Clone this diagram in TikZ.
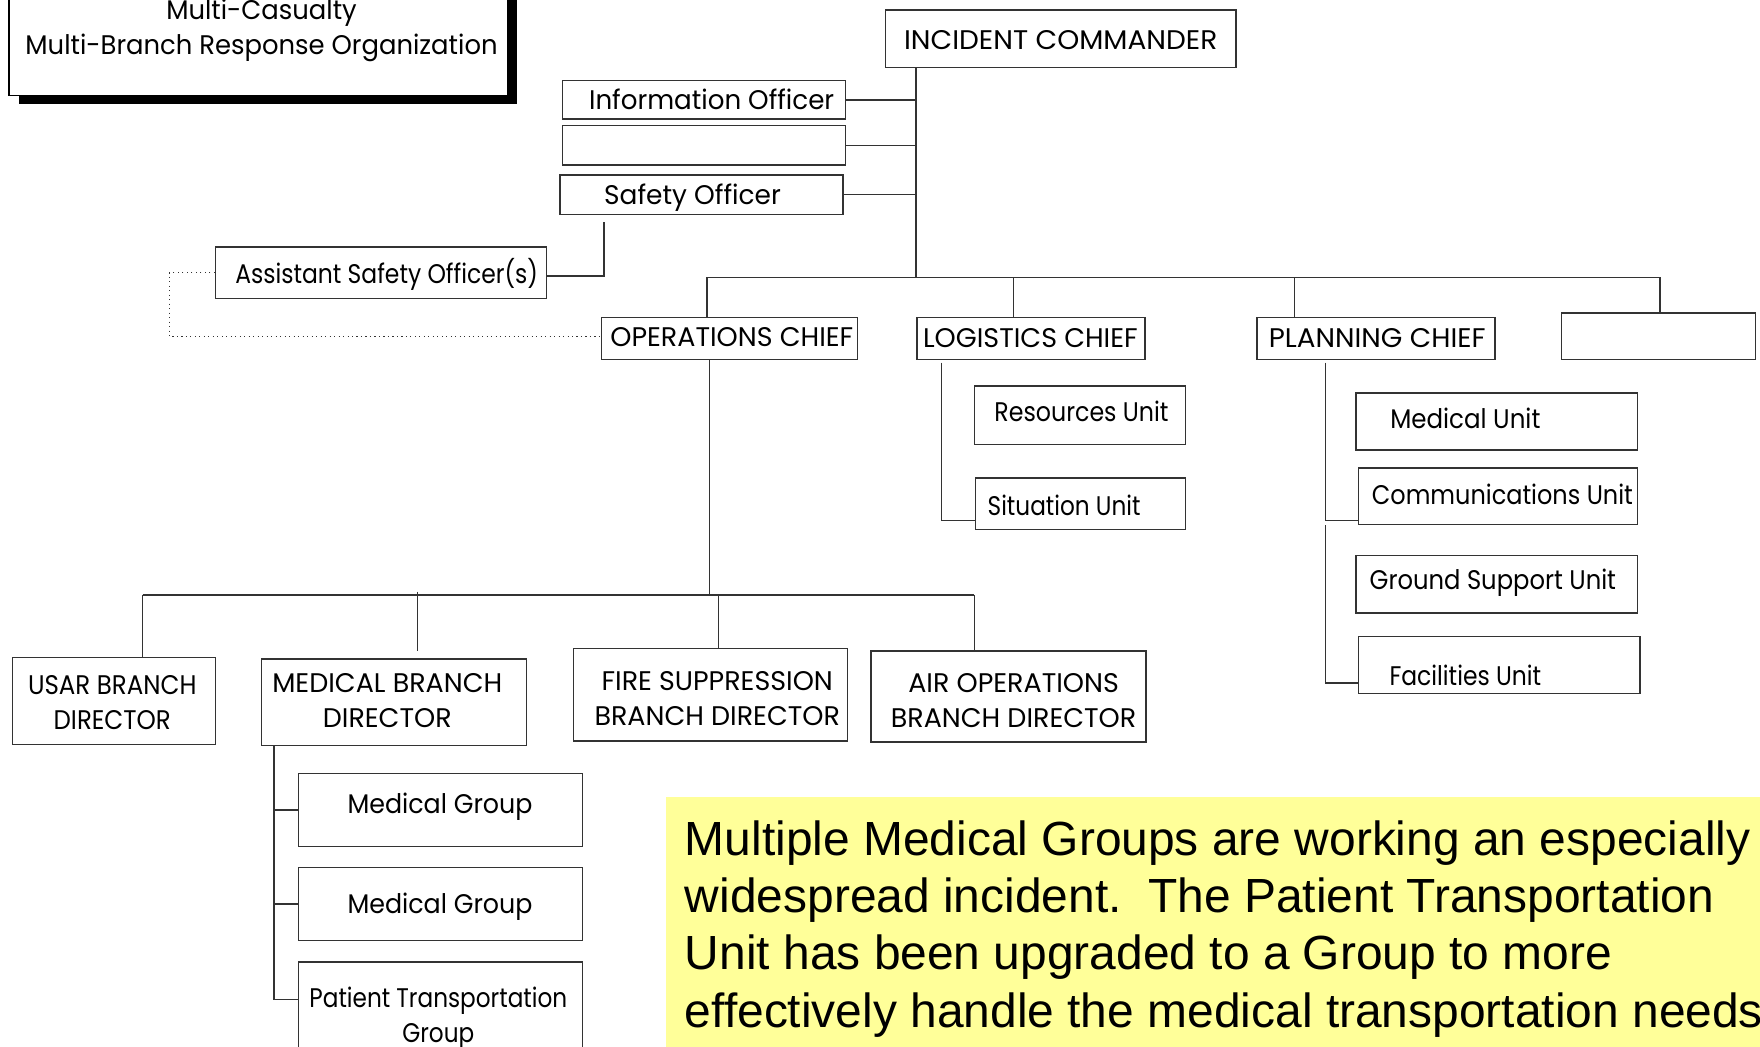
\documentclass[tikz,border=0pt]{standalone}
\usepackage{fontspec}
\usepackage{graphicx}
\usetikzlibrary{calc}
\newfontfamily\chartfont{Poppins}
\newfontfamily\notefont{Liberation Sans}
\definecolor{ln}{HTML}{333333}
\definecolor{noteyellow}{HTML}{FFFF99}
\newcommand\orgbox[5]{\node[box,minimum width={(#4-#2)*1pt},minimum height={(#5-#3)*1pt}] (#1) at ({(#2+#4)/2},{(#3+#5)/2}) {};}
\newcommand\hs[2]{\scalebox{#1}[1]{#2}}
\newcommand\twoline[3]{\scalebox{#1}[1]{\begin{tabular}{@{}c@{}}#2\\#3\end{tabular}}}
\begin{document}
\begin{tikzpicture}[x=1pt,y=-1pt,
  box/.style={draw=ln, line width=1.2pt, fill=white, inner sep=0pt},
  txt/.style={font=\chartfont\fontsize{24}{31}\selectfont, inner sep=0pt, text height=17pt, text depth=0pt},
  txttwo/.style={font=\chartfont\fontsize{24}{31}\selectfont, inner sep=0pt},
  wire/.style={draw=ln, line width=1.2pt},
  dotwire/.style={draw=ln, line width=1pt, dash pattern=on 1pt off 3pt}]
\useasboundingbox (0,0) rectangle (1568,932);
\clip (0,0) rectangle (1568,932);
\fill[white] (0,0) rectangle (1568,932);
% title
\fill[black] (17,-20) rectangle (461,93);
\node[box,draw=black,minimum width=444pt,minimum height=105pt] (title) at (230,32.5) {};
\node[txt] (title1) at (233,9) {\hs{0.96}{Multi-Casualty}};
\node[txt] (title2) at (233,40) {\hs{0.96}{Multi-Branch Response Organization}};
% command staff
\orgbox{ic}{789}{9}{1101}{60}
\node[txt] (t-ic) at (945,36) {\hs{1.04}{INCIDENT COMMANDER}};
\orgbox{info}{501}{72}{753}{106}
\node[txt] (t-info) at (634,89) {\hs{0.97}{Information Officer}};
\orgbox{blankA}{501}{112}{753}{147}
\orgbox{safety}{499}{156}{751}{191}
\node[txt] (t-safety) at (617,174) {\hs{0.98}{Safety Officer}};
\orgbox{asst}{192}{220}{487}{266}
\node[txt] (t-asst) at (344.5,244) {\hs{0.87}{Assistant Safety Officer(s)}};
% general staff
\orgbox{ops}{536}{283}{764}{320}
\node[txt] (t-ops) at (652,300) {OPERATIONS CHIEF};
\orgbox{log}{817}{283}{1020}{320}
\node[txt] (t-log) at (918,301) {LOGISTICS CHIEF};
\orgbox{plan}{1120}{283}{1332}{320}
\node[txt] (t-plan) at (1227,301) {\hs{1.03}{PLANNING CHIEF}};
\orgbox{blankB}{1391}{279}{1564}{320}
% logistics units
\orgbox{res}{868}{344}{1056}{396}
\node[txt] (t-res) at (963.5,367) {\hs{0.88}{Resources Unit}};
\orgbox{sit}{869}{426}{1056}{472}
\node[txt] (t-sit) at (948,451) {\hs{0.86}{Situation Unit}};
% planning units
\orgbox{medu}{1208}{350}{1459}{401}
\node[txt] (t-medu) at (1305.5,373) {\hs{0.91}{Medical Unit}};
\orgbox{comm}{1210}{417}{1459}{467}
\node[txt] (t-comm) at (1338.5,441) {\hs{0.89}{Communications Unit}};
\orgbox{gsu}{1208}{495}{1459}{546}
\node[txt] (t-gsu) at (1330,517) {\hs{0.9}{Ground Support Unit}};
\orgbox{fac}{1210}{567}{1461}{618}
\node[txt] (t-fac) at (1305.5,602) {\hs{0.87}{Facilities Unit}};
% branches
\orgbox{usar}{11}{586}{192}{663}
\node[txttwo] (t-usar) at (100,628) {\twoline{0.91}{USAR BRANCH}{DIRECTOR}};
\orgbox{mbd}{233}{587}{469}{664}
\node[txttwo] (t-mbd) at (345,626.5) {\twoline{1}{MEDICAL BRANCH}{DIRECTOR}};
\orgbox{fire}{511}{578}{755}{660}
\node[txttwo] (t-fire) at (639,624.5) {\twoline{1}{FIRE SUPPRESSION}{BRANCH DIRECTOR}};
\orgbox{air}{776}{580}{1021}{661}
\node[txttwo] (t-air) at (903,626.5) {\twoline{1}{AIR OPERATIONS}{BRANCH DIRECTOR}};
% medical groups
\orgbox{mg1}{266}{689}{519}{754}
\node[txt] (t-mg1) at (392,716) {\hs{0.94}{Medical Group}};
\orgbox{mg2}{266}{773}{519}{838}
\node[txt] (t-mg2) at (392,805) {\hs{0.94}{Medical Group}};
\orgbox{ptg}{266}{857}{519}{945}
\node[txttwo] (t-ptg) at (390.5,907) {\twoline{0.86}{Patient Transportation}{Group}};
% note
\node[fill=noteyellow,inner sep=0pt,minimum width=990pt,minimum height=240pt,anchor=north west] (note) at (593,710) {};
\node[font=\notefont\fontsize{42.7}{51}\selectfont,align=left,inner sep=0pt,anchor=north west] (notetext) at (610,731)
  {Multiple Medical Groups are working an especially\\widespread incident.\ \ The Patient Transportation\\Unit has been upgraded to a Group to more\\effectively handle the medical transportation needs};
% connectors: command
\coordinate (icBus) at (816,247);
\draw[wire] (icBus |- ic.south) -- (icBus);
\draw[wire] (info.east) -- (info.east -| icBus);
\draw[wire] (blankA.east) -- (blankA.east -| icBus);
\draw[wire] (safety.east) -- (safety.east -| icBus);
\coordinate (sfDrop) at (538,198);
\draw[wire] (sfDrop) |- ($(asst.east)+(0,3)$);
\coordinate (dotCorner) at (151,300);
\draw[dotwire] (asst.west) -| (dotCorner) -- (dotCorner -| ops.west);
% general staff bus
\coordinate (busL) at (630,247);
\coordinate (busR) at (1479,247);
\coordinate (busLog) at (903,247);
\coordinate (busPlan) at (1153,247);
\draw[wire] (busL) -- (busR);
\draw[wire] (busL) -- (busL |- ops.north);
\draw[wire] (busLog) -- (busLog |- log.north);
\draw[wire] (busPlan) -- (busPlan |- plan.north);
\draw[wire] (busR) -- (busR |- blankB.north);
% logistics
\coordinate (logTop) at (839,323);
\draw[wire] (logTop) |- ($(sit.south west)+(0,-9)$);
\draw[wire] ($(res.west)+(0,9)$) -- ($(res.west)+(0,9)$ -| logTop);
% planning
\coordinate (planTop) at (1181,323);
\coordinate (planMid) at (1181,468);
\draw[wire] (planTop) |- ($(comm.south west)+(0,-4)$);
\draw[wire] ($(medu.west)+(0,3)$) -- ($(medu.west)+(0,3)$ -| planTop);
\draw[wire] (planMid) |- ($(fac.south west)+(0,-10)$);
\draw[wire] ($(gsu.west)+(0,3)$) -- ($(gsu.west)+(0,3)$ -| planMid);
% operations
\coordinate (opsDrop) at (632,530);
\draw[wire] (opsDrop |- ops.south) -- (opsDrop);
\coordinate (obL) at (127,530);
\coordinate (obR) at (868,530);
\draw[wire] (obL) -- (obR);
\draw[wire] (obL) -- (obL |- usar.north);
\coordinate (obMed) at (372,527);
\coordinate (mbdIn) at (372,580);
\draw[wire] (obMed) -- (mbdIn);
\coordinate (obFire) at (640,530);
\draw[wire] (obFire) -- (obFire |- fire.north);
\draw[wire] (obR) -- (obR |- air.north);
% medical branch
\coordinate (mbTop) at (244,664);
\draw[wire] (mbTop) |- ($(ptg.north west)+(0,34)$);
\draw[wire] (mg1.west) -- (mg1.west -| mbTop);
\draw[wire] (mg2.west) -- (mg2.west -| mbTop);
\end{tikzpicture}
\end{document}
